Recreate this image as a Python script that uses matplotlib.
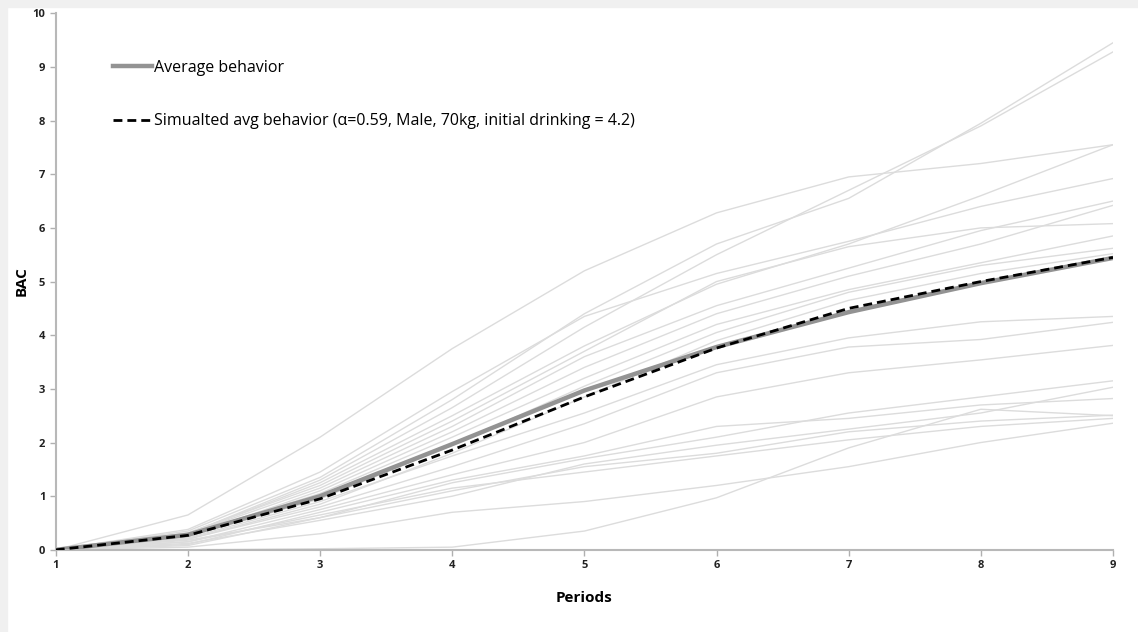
import matplotlib.pyplot as plt
from matplotlib.patches import Rectangle

periods = [1, 2, 3, 4, 5, 6, 7, 8, 9]

# individual subjects' BAC per period
subjects = [
    [0, 0.65, 2.10, 3.75, 5.20, 6.28, 6.95, 7.20, 7.55],
    [0, 0.35, 1.35, 2.80, 4.40, 5.70, 6.55, 7.95, 9.45],
    [0, 0.30, 1.30, 2.65, 4.15, 5.50, 6.70, 7.90, 9.28],
    [0, 0.30, 1.25, 2.50, 3.80, 4.95, 5.70, 6.60, 7.55],
    [0, 0.38, 1.45, 2.95, 4.35, 5.15, 5.75, 6.40, 6.92],
    [0, 0.30, 1.15, 2.30, 3.60, 4.55, 5.25, 5.95, 6.50],
    [0, 0.25, 1.10, 2.20, 3.40, 4.40, 5.10, 5.70, 6.42],
    [0, 0.32, 1.20, 2.40, 3.70, 5.00, 5.65, 6.00, 6.08],
    [0, 0.28, 1.05, 2.10, 3.20, 4.20, 4.85, 5.35, 5.85],
    [0, 0.25, 0.95, 1.95, 3.05, 4.05, 4.80, 5.30, 5.62],
    [0, 0.20, 0.85, 1.80, 2.85, 3.90, 4.65, 5.15, 5.52],
    [0, 0.22, 0.90, 1.75, 2.55, 3.45, 3.95, 4.25, 4.35],
    [0, 0.20, 0.80, 1.55, 2.35, 3.30, 3.78, 3.92, 4.24],
    [0, 0.15, 0.75, 1.40, 2.00, 2.85, 3.30, 3.54, 3.81],
    [0, 0.18, 0.60, 1.25, 1.70, 2.10, 2.55, 2.85, 3.15],
    [0, 0.12, 0.55, 1.00, 1.60, 1.95, 2.25, 2.55, 3.03],
    [0, 0.10, 0.70, 1.30, 1.75, 2.30, 2.45, 2.70, 2.82],
    [0, 0.08, 0.60, 1.10, 1.55, 1.80, 2.20, 2.40, 2.51],
    [0, 0.05, 0.30, 0.70, 0.90, 1.20, 1.55, 2.00, 2.36],
    [0, 0.00, 0.02, 0.05, 0.35, 0.97, 1.90, 2.62, 2.50],
    [0, 0.15, 0.65, 1.15, 1.45, 1.75, 2.05, 2.30, 2.45],
]

avg_behavior = [0, 0.28, 1.00, 1.97, 2.97, 3.78, 4.43, 4.97, 5.44]
sim_behavior = [0, 0.27, 0.95, 1.86, 2.85, 3.76, 4.50, 5.00, 5.45]

plt.rcParams['font.family'] = ['Open Sans', 'DejaVu Sans']

fig = plt.figure(figsize=(11.38, 6.32), dpi=100, facecolor='white')
# light grey frame strips along the top and left edge
fig.patches.append(Rectangle((0, 0.989), 1, 0.011, transform=fig.transFigure,
                             color='#f0f0f0', zorder=0))
fig.patches.append(Rectangle((0, 0), 0.006, 1, transform=fig.transFigure,
                             color='#f0f0f0', zorder=0))

ax = fig.add_axes([0.049, 0.130, 0.929, 0.849])

for s in subjects:
    ax.plot(periods, s, color='#dcdcdc', lw=1.0, zorder=1)

ax.plot(periods, avg_behavior, color='#939393', lw=3.2, zorder=2,
        label='Average behavior')
ax.plot(periods, sim_behavior, color='black', lw=2.0, ls=(0, (3.2, 1.8)),
        zorder=3,
        label='Simualted avg behavior (\u03b1=0.59, Male, 70kg, initial drinking = 4.2)')

ax.set_xlim(1, 9)
ax.set_ylim(0, 10)
ax.set_xticks(periods)
ax.set_yticks(range(0, 11))
ax.tick_params(axis='both', labelsize=8, colors='#222222', length=4,
               color='#b0b0b0', width=1)
for lbl in ax.get_xticklabels() + ax.get_yticklabels():
    lbl.set_fontweight('bold')

for side in ['top', 'right']:
    ax.spines[side].set_visible(False)
for side in ['left', 'bottom']:
    ax.spines[side].set_color('#b8b8b8')
    ax.spines[side].set_linewidth(1.5)

ax.set_xlabel('Periods', fontsize=11, fontweight='bold', labelpad=14)
ax.set_ylabel('BAC', fontsize=11, fontweight='bold', labelpad=3)

ax.legend(loc='upper left', bbox_to_anchor=(0.0483, 0.925), frameon=False,
          fontsize=11.5, handlelength=2.4, handletextpad=0.15,
          labelspacing=2.35, borderaxespad=0)

fig.savefig('out.png', dpi=100, facecolor=fig.get_facecolor())
